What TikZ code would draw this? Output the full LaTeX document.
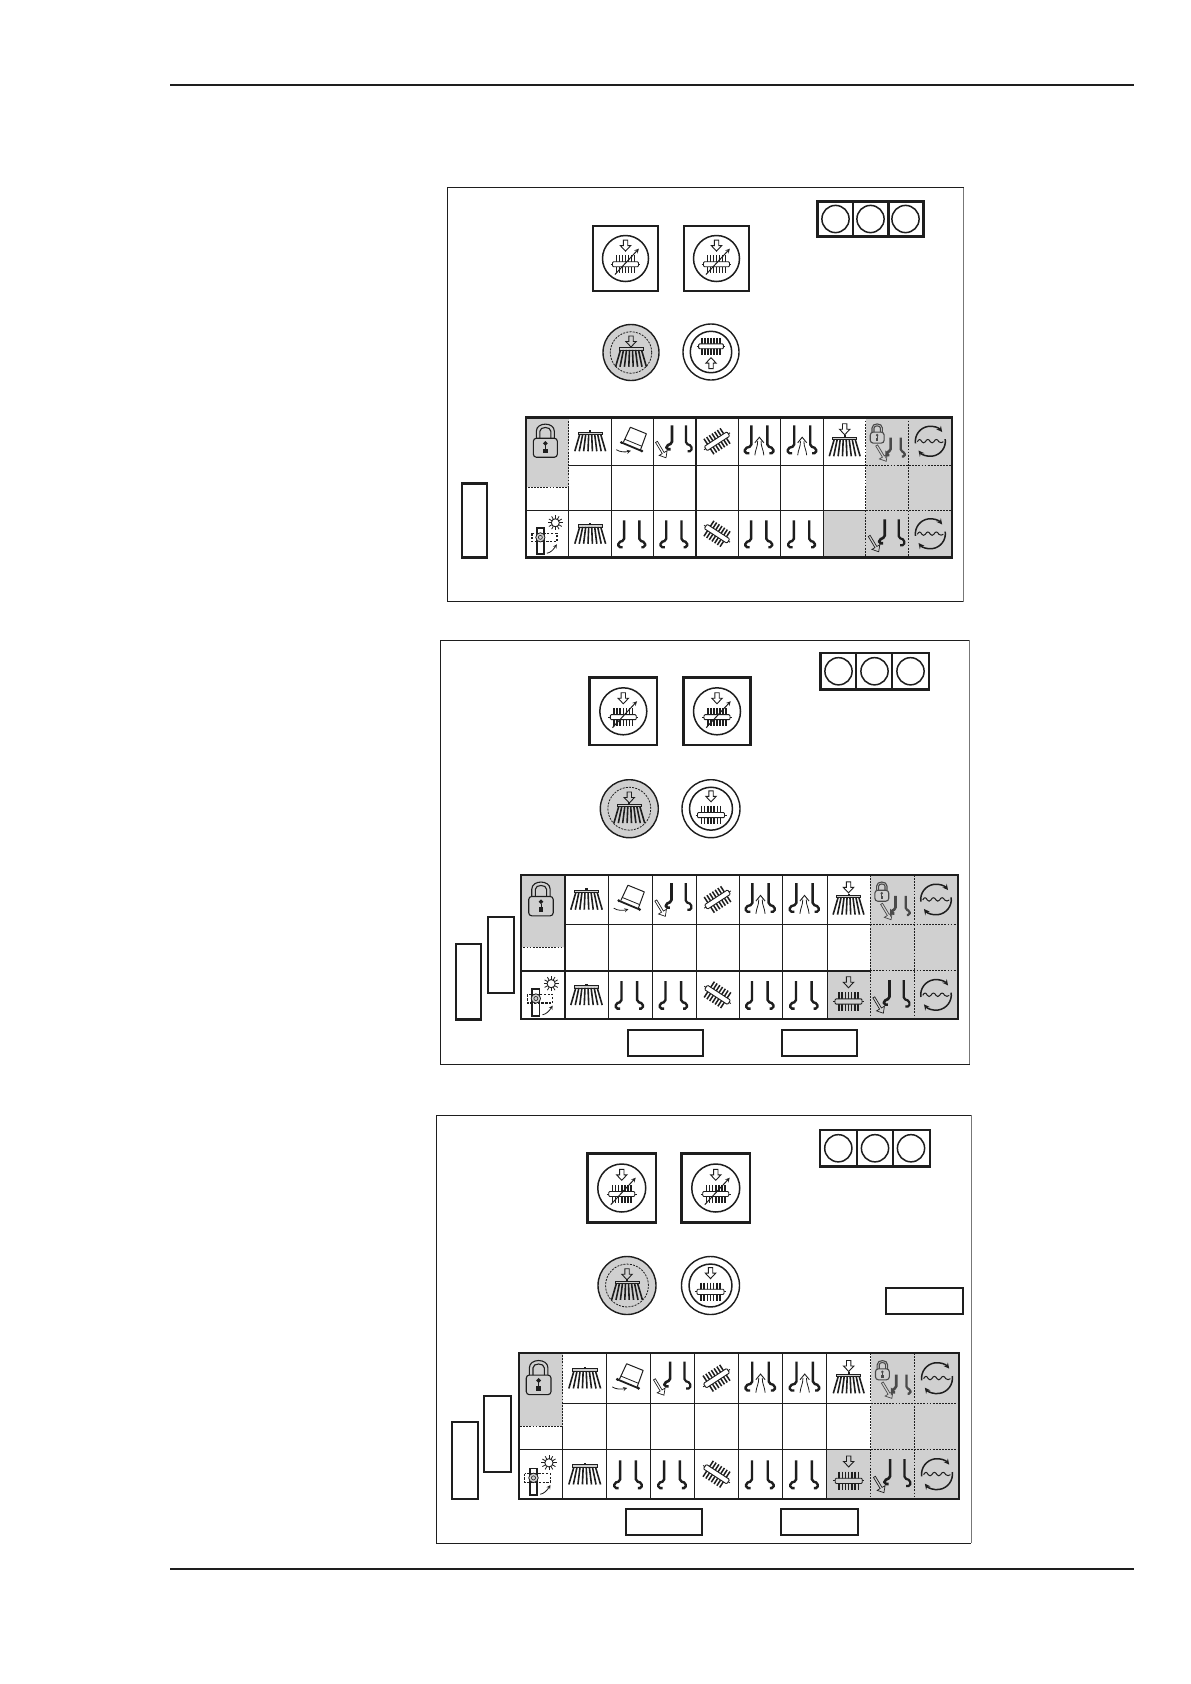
\documentclass[tikz,border=0pt]{standalone}
\usetikzlibrary{calc}
\definecolor{ink}{HTML}{1E1E1E}
\definecolor{panelgray}{HTML}{D0D0D0}
\definecolor{framegray}{HTML}{777777}
\definecolor{softgray}{HTML}{4A4A4A}
\tikzset{
  boxline/.style={line width=2.1pt},
  frameline/.style={line width=.9pt},
  dashline/.style={line width=1pt,dash pattern=on 1.8pt off 1.3pt},
  pics/harrow/.style={code={
    \draw[line width=.9pt] (-2.2,-11)--(2.2,-11)--(2.2,-5.5)--(5.2,-5.5)--(0,0)--(-5.2,-5.5)--(-2.2,-5.5)--cycle;
  }},
  pics/harrowlong/.style={code={
    \draw[line width=.7pt] (-1.1,-18.5)--(1.1,-18.5)--(1.1,-5.5)--(4.6,-5.5)--(0,0)--(-4.6,-5.5)--(-1.1,-5.5)--cycle;
  }},
  pics/broomicon/.style={code={
    \fill (-1,-11) rectangle (1,-8.8);
    \draw[line width=.8pt,fill=panelgray] (-12,-9) rectangle (12,-6.8);
    \foreach \i in {-3.5,-2.5,-1.5,-.5,.5,1.5,2.5,3.5} \draw[line width=1.6pt] ({\i*3},-6.8) -- ({\i*4.4},10);
  }},
  pics/broomarrow/.style={code={
    \pic at (0,5) {broomicon};
    \pic at (0,-6.5) {harrow};
  }},
  pics/brushbar/.style={code={
    \foreach \i in {-3,...,3} \draw[line width=1.5pt] ({\i*3.2},-9.2) -- ({\i*3.2},9.2);
    \draw[line width=.9pt] (-15.5,0)--(15.5,0);
    \draw[line width=.9pt,fill=#1,rounded corners=1pt] (-13.5,-2.6) rectangle (13.5,2.6);
  }},
  pics/brushbar/.default=white,
  pics/brushdown/.style={code={
    \pic at (0,6.5) {brushbar=#1};
    \pic at (0,-7) {harrow};
  }},
  pics/brushdown/.default=white,
  pics/brushup/.style={code={
    \pic[scale=.92] at (0,-6) {brushbar=white};
    \pic[rotate=180] at (0,6) {harrow};
  }},
  pics/btnicon/.style={code={
    \pic at (0,-7.7) {harrow};
    \pic[scale=.96] at (0,6) {brushbar=white};
    \draw[line width=1pt,-stealth] (-11,16.7) -- (14,-10.3);
  }},
  pics/hookpair/.style={code={
    \draw[line width=2.4pt,rounded corners=1.8pt] (-8.3,-13.5)--(-8.3,6.8)--(-14,8.5)--(-14,13.5)--(-9.7,13.5);
    \draw[line width=2.4pt,rounded corners=1.8pt] (7,-13.5)--(7,6.8)--(12.7,8.5)--(12.7,13.5)--(9,13.5);
  }},
  pics/hookdiag/.style={code={
    \draw[line width=2.6pt,rounded corners=1.6pt] (-2.5,-14.5)--(-2.5,3.5)--(-8,6)--(-8,9.5)--(-4,9.5);
    \draw[line width=2.2pt,rounded corners=1.6pt] (11.5,-14.5)--(11.5,4)--(17,6)--(17,11.5)--(13,11.5);
    \pic[rotate=31] at (-8.5,18) {harrowlong};
  }},
  pics/hookup/.style={code={
    \draw[line width=2.4pt,rounded corners=1.8pt] (-8,-16)--(-8,5)--(-14.5,7)--(-14.5,12)--(-10,12);
    \draw[line width=2.4pt,rounded corners=1.8pt] (8,-16)--(8,5)--(14,7)--(14,12)--(10,12);
    \draw[line width=.8pt] (-4.5,14) .. controls (-4,8) and (-1.7,6) .. (-1.7,0);
    \draw[line width=.8pt] (4.5,14) .. controls (4,8) and (1.7,6) .. (1.7,0);
    \draw[line width=.9pt] (-4.5,1.5)--(0,-4)--(4.5,1.5);
  }},
  pics/hopper/.style={code={
    \draw[line width=1pt,line join=round] (-9,1)--(-2,-14)--(14,-7.5)--(8,9);
    \draw[line width=.8pt] (-7.5,-2)--(9.5,5);
    \draw[line width=1.8pt] (-11,1.2)--(9.5,9.8);
    \fill (-11,1.2) circle[radius=1.5pt] (9.5,9.8) circle[radius=1.5pt];
    \draw[line width=.8pt,-stealth] (-16,8.5) .. controls (-12,11) and (-7,11) .. (-1.5,9.5);
  }},
  pics/lockicon/.style={code={
    \draw[line width=1.1pt,rounded corners=3pt] (-12,-3) rectangle (12,16);
    \draw[line width=1.1pt] (-9,-3)--(-9,-10) .. controls (-9,-19.5) and (9,-19.5) .. (9,-10)--(9,-3);
    \draw[line width=1.1pt] (-5.5,-3)--(-5.5,-10) .. controls (-5.5,-15) and (5.5,-15) .. (5.5,-10)--(5.5,-3);
    \fill (0,-0.2)--(2.4,2.2)--(0,4.6)--(-2.4,2.2)--cycle;
    \draw[line width=.8pt] (0,4)--(0,8);
    \fill (-2.2,7.5) rectangle (2.2,12);
  }},
  pics/valveicon/.style={code={
    \draw[line width=1.6pt,fill=white] (-10.5,-5.5) rectangle (-3.5,20.5);
    \draw[line width=1.3pt,dash pattern=on 2.4pt off 1.4pt] (-15.5,-.5) rectangle (9.5,8);
    \draw[line width=.8pt,fill=panelgray] (-7,3.6) circle[radius=4.6pt];
    \draw[line width=.6pt] (-7,3.6) circle[radius=2pt];
    \draw[line width=.9pt] (8,-11) circle[radius=4pt];
    \foreach \a in {0,30,...,330} \draw[line width=.8pt] ($(8,-11)+(\a:4pt)$) -- ($(8,-11)+(\a:7.4pt)$);
    \draw[line width=.8pt,-stealth] (-.5,19.5) .. controls (3,19) and (6,16) .. (9.5,10.5);
  }},
  pics/recycle/.style={code={
    \draw[line width=1.5pt,-stealth] (188:15pt) arc[start angle=188,end angle=38,radius=15pt];
    \draw[line width=1.5pt,-stealth] (8:15pt) arc[start angle=8,end angle=-142,radius=15pt];
    \draw[line width=1pt] (-13,.5) .. controls (-11.5,-2.5) and (-10,-2.5) .. (-8.5,.5)
       .. controls (-7.5,2) and (-6,2) .. (-5,.5)
       .. controls (-3.5,-2.5) and (-1.5,-2.5) .. (0,.5)
       .. controls (1,2) and (2.5,2) .. (3.5,.5)
       .. controls (5,-2.5) and (7,-2.5) .. (8.5,.5)
       .. controls (10,2) and (11.5,1.5) .. (13,.5);
  }},
  pics/lockcombo/.style={code={
    \pic[scale=.58,color=softgray] at (-10,-7.4) {lockicon};
    \pic[scale=.73,color=softgray] at (5.2,6.9) {hookdiag};
  }},
}
% ---------- a table
\newcommand\TableBase[3]{% outer width, inner width, gray end y
  \foreach \i in {0,...,10}{\coordinate (X\i) at ({\XS[\i]},0);}
  \foreach \j in {0,...,3}{\coordinate (Y\j) at (0,{\YS[\j]});}
  \foreach \i [evaluate=\i as \k using int(\i+1)] in {0,...,9}{
    \foreach \j [evaluate=\j as \m using int(\j+1)] in {0,1,2}{
      \coordinate (C\i-\j) at ($(X\i|-Y\j)!.5!(X\k|-Y\m)$);
    }
  }
  \fill[panelgray] (X0|-Y0) rectangle (X1|-0,#3);
  \fill[panelgray] (X8|-Y0) rectangle (X10|-Y3);
  \fill[panelgray] (X7|-Y2) rectangle (X8|-Y3);
  \foreach \i in {2,...,7}{\draw[line width=#2pt] (X\i|-Y0)--(X\i|-Y3);}
  \draw[line width=#2pt] (X1|-0,#3)--(X1|-Y3);
  \draw[line width=#2pt] (X1|-Y1)--(X8|-Y1);
  \draw[line width=#2pt] (X0|-Y2)--(X8|-Y2);
  \draw[dashline] (X0|-Y0)--(X0|-0,#3)--(X1|-0,#3)--(X1|-Y0);
  \draw[dashline] (X8|-Y0)--(X8|-Y3);
  \draw[dashline] (X9|-Y0)--(X9|-Y3);
  \draw[dashline] (X8|-Y1)--(X10|-Y1);
  \draw[dashline] (X8|-Y2)--(X10|-Y2);
  \draw[line width=#1pt] (X0|-Y0) rectangle (X10|-Y3);
}
\newcommand\TableIcons[1]{%
  \pic[scale=#1,xshift=-2pt] at (C0-0) {lockicon};
  \pic[scale=#1] at (C1-0) {broomicon};
  \pic[scale=#1] at (C2-0) {hopper};
  \pic[scale=#1,yshift=1.5pt] at (C3-0) {hookdiag};
  \pic[scale=#1,rotate=33] at (C4-0) {brushbar=white};
  \pic[scale=#1] at (C5-0) {hookup};
  \pic[scale=#1] at (C6-0) {hookup};
  \pic[scale=#1] at (C7-0) {broomarrow};
  \pic[scale=#1] at (C8-0) {lockcombo};
  \pic[scale=#1] at (C9-0) {recycle};
  \pic[scale=#1] at (C0-2) {valveicon};
  \pic[scale=#1] at (C1-2) {broomicon};
  \pic[scale=#1] at (C2-2) {hookpair};
  \pic[scale=#1] at (C3-2) {hookpair};
  \pic[scale=#1,rotate=-33] at (C4-2) {brushbar=white};
  \pic[scale=#1] at (C5-2) {hookpair};
  \pic[scale=#1] at (C6-2) {hookpair};
  \pic[scale=#1] at (C8-2) {hookdiag};
  \pic[scale=#1] at (C9-2) {recycle};
}
\newcommand\TriBox[9]{% x0,x1,y0,y1,d1,d2,c1,c2,c3
  \draw[boxline] (#1,#3) rectangle (#2,#4);
  \draw[boxline] (#5,#3)--(#5,#4);
  \draw[boxline] (#6,#3)--(#6,#4);
  \pgfmathsetmacro\cyy{(#3+#4)/2}
  \draw[line width=1.5pt] (#7,\cyy) circle[radius=13.6pt];
  \draw[line width=1.5pt] (#8,\cyy) circle[radius=13.6pt];
  \draw[line width=1.5pt] (#9,\cyy) circle[radius=13.6pt];
}
\newcommand\SqBtn[5]{% x0,x1,y0,y1,radius
  \draw[line width=2.4pt] (#1,#3) rectangle (#2,#4);
  \pgfmathsetmacro\bx{(#1+#2)/2}
  \pgfmathsetmacro\by{(#3+#4)/2}
  \pgfmathsetmacro\bs{#5/24}
  \draw[line width=1.5pt] (\bx,\by) circle[radius=#5pt];
  \pic[scale=\bs] at (\bx,\by) {btnicon};
}
\newcommand\RoundGray[3]{% x,y,r
  \draw[line width=1.4pt,fill=panelgray] (#1,#2) circle[radius=#3pt];
  \pgfmathsetmacro\rr{#3*.74}
  \pgfmathsetmacro\rs{#3/29*.88}
  \draw[line width=.8pt,dash pattern=on 2pt off 1.2pt] (#1,#2) circle[radius=\rr pt];
  \pic[scale=\rs] at (#1,#2) {broomarrow};
}
\newcommand\RoundWhite[4]{% x,y,r,icon
  \draw[line width=1.4pt] (#1,#2) circle[radius=#3pt];
  \pgfmathsetmacro\rr{#3*.74}
  \pgfmathsetmacro\rs{#3/29*.98}
  \draw[line width=1.5pt] (#1,#2) circle[radius=\rr pt];
  \pic[scale=\rs] at (#1,#2) {#4};
}
\newcommand\Frame[4]{% l,r,t,b
  \draw[frameline] (#2,#3)--(#1,#3)--(#1,#4)--(#2,#4);
  \draw[frameline,framegray] (#2,#3)--(#2,#4);
}
\begin{document}
\begin{tikzpicture}[x=1pt,y=-1pt,color=ink,line join=miter]
\useasboundingbox (0,0) rectangle (1191,1684);
\fill[white] (0,0) rectangle (1191,1684);
% page rules
\coordinate (headL) at (170,85); \coordinate (headR) at (1134,85);
\coordinate (footL) at (170,1569); \coordinate (footR) at (1134,1569);
\draw[line width=1.5pt] (headL)--(headR);
\draw[line width=1.5pt] (footL)--(footR);

% ===== Panel 1
\Frame{447.5}{963.5}{187.5}{601.5}
\TriBox{817.5}{923.5}{201.5}{236.5}{853}{888.5}{835.5}{870.5}{905.5}
\SqBtn{593}{658}{226}{291}{23}
\SqBtn{684}{749}{226}{291}{23}
\RoundGray{631}{352.5}{28}
\RoundWhite{711}{352}{28}{brushup}
\def\XS{{526,568.7,611.7,653,696,738,780.7,823.7,865.7,908.7,952}}
\def\YS{{417.5,465,510,557.5}}
\TableBase{2.2}{1}{487}
\draw[line width=1.8pt] (X4|-Y0)--(X4|-Y3);
\TableIcons{1}
\draw[boxline] (461.7,483.5) rectangle (487,557.5);

% ===== Panel 2
\Frame{440.5}{969.5}{640}{1064}
\TriBox{820.5}{929}{653}{689.5}{856.3}{892.3}{838.5}{874.5}{910.5}
\SqBtn{589.6}{657}{677.6}{745}{23.5}
\SqBtn{683.5}{750.5}{677.6}{745}{23.5}
\RoundGray{629.3}{808.7}{29}
\RoundWhite{711}{808.7}{29}{brushdown}
\def\XS{{521,565,608,652,696,739,782,827,870,914,958}}
\def\YS{{875,924,970.7,1019}}
\TableBase{2.6}{1}{947}
\draw[line width=2pt] (X1|-Y0)--(X1|-Y3);
\draw[line width=2pt] (X0|-Y2)--(X8|-Y2);
\TableIcons{1.02}
\pic[scale=1.02] at (C7-2) {brushdown=panelgray};
\draw[boxline] (455.7,944) rectangle (481,1019.5);
\draw[boxline] (487.7,916.7) rectangle (514,992.7);
\draw[boxline] (627.7,1030) rectangle (703,1056);
\draw[boxline] (781.7,1030) rectangle (857,1056);

% ===== Panel 3
\Frame{436.5}{971}{1115}{1543}
\TriBox{820}{930}{1130}{1166.5}{857.3}{893.3}{838.3}{875}{911}
\SqBtn{587.5}{656}{1153.5}{1222.5}{24}
\SqBtn{681.5}{750}{1153.5}{1222.5}{24}
\RoundGray{627}{1285.5}{29}
\RoundWhite{710.5}{1285.5}{29}{brushdown}
\def\XS{{518.7,562.7,606.7,650.7,694.7,738.3,782.7,826.7,870.7,914.7,959.3}}
\def\YS{{1353,1403.3,1449.3,1499}}
\TableBase{1.8}{1}{1426}
\TableIcons{1.03}
\pic[scale=1.03] at (C7-2) {brushdown=panelgray};
\draw[boxline] (451.7,1421.7) rectangle (478.3,1499.3);
\draw[boxline] (483.7,1395.7) rectangle (511,1472);
\draw[boxline] (626,1509) rectangle (702,1535);
\draw[boxline] (780.7,1509) rectangle (858.3,1535);
\draw[boxline] (886,1287.7) rectangle (963.3,1314);
\end{tikzpicture}
\end{document}
